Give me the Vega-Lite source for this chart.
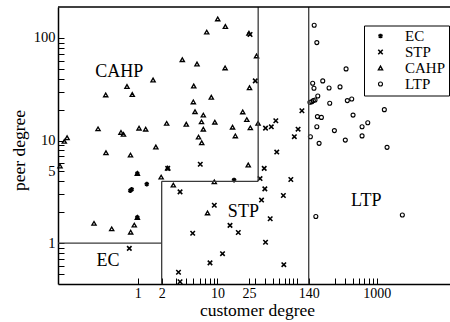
{
  "$schema": "https://vega.github.io/schema/vega-lite/v6.json",
  "width": 392,
  "height": 277,
  "autosize": {"type": "none"},
  "padding": {"left": 58, "top": 7, "right": 0, "bottom": 38},
  "config": {
    "font": "Liberation Serif",
    "view": {"stroke": null},
    "axis": {
      "grid": false,
      "domainColor": "black",
      "domainWidth": 1.5,
      "tickColor": "black",
      "tickWidth": 1,
      "labelColor": "black",
      "labelFont": "Liberation Serif",
      "labelFontSize": 14,
      "titleFont": "Liberation Serif",
      "titleFontSize": 17.5,
      "titleFontWeight": "normal",
      "titleColor": "black",
      "labelOverlap": false,
      "labelFlush": false,
      "labelBound": false
    }
  },
  "datasets": {
    "points": [
      {"t": "CAHP", "cd": 10.1, "pd": 153}, {"t": "CAHP", "cd": 12.6, "pd": 129}, {"t": "CAHP", "cd": 7.35, "pd": 114},
      {"t": "CAHP", "cd": 24.9, "pd": 111}, {"t": "CAHP", "cd": 31.0, "pd": 66.7}, {"t": "CAHP", "cd": 3.63, "pd": 61.4},
      {"t": "CAHP", "cd": 5.55, "pd": 55.7}, {"t": "CAHP", "cd": 12.5, "pd": 51.0}, {"t": "CAHP", "cd": 1.56, "pd": 38.9},
      {"t": "CAHP", "cd": 0.734, "pd": 33.6}, {"t": "CAHP", "cd": 0.855, "pd": 28.1}, {"t": "CAHP", "cd": 0.397, "pd": 27.8},
      {"t": "CAHP", "cd": 5.05, "pd": 34.0}, {"t": "CAHP", "cd": 25.3, "pd": 32.7}, {"t": "CAHP", "cd": 8.39, "pd": 26.4},
      {"t": "CAHP", "cd": 4.99, "pd": 23.8}, {"t": "CAHP", "cd": 5.24, "pd": 19.1}, {"t": "CAHP", "cd": 6.66, "pd": 17.7},
      {"t": "CAHP", "cd": 20.8, "pd": 19.0}, {"t": "CAHP", "cd": 2.31, "pd": 14.7}, {"t": "CAHP", "cd": 4.07, "pd": 14.4},
      {"t": "CAHP", "cd": 6.32, "pd": 15.2}, {"t": "CAHP", "cd": 9.29, "pd": 15.1}, {"t": "CAHP", "cd": 23.4, "pd": 16.0},
      {"t": "CAHP", "cd": 32.4, "pd": 14.7}, {"t": "CAHP", "cd": 1.04, "pd": 13.2}, {"t": "CAHP", "cd": 1.26, "pd": 12.9},
      {"t": "CAHP", "cd": 0.617, "pd": 12.0}, {"t": "CAHP", "cd": 0.663, "pd": 11.5}, {"t": "CAHP", "cd": 0.318, "pd": 13.0},
      {"t": "CAHP", "cd": 6.66, "pd": 12.9}, {"t": "CAHP", "cd": 15.5, "pd": 13.5}, {"t": "CAHP", "cd": 25.9, "pd": 13.3},
      {"t": "CAHP", "cd": 16.8, "pd": 11.1}, {"t": "CAHP", "cd": 5.8, "pd": 10.8}, {"t": "CAHP", "cd": 6.36, "pd": 9.52},
      {"t": "CAHP", "cd": 1.69, "pd": 8.64}, {"t": "CAHP", "cd": 0.12, "pd": 9.82}, {"t": "CAHP", "cd": 0.13, "pd": 10.65},
      {"t": "CAHP", "cd": 0.40, "pd": 7.6}, {"t": "CAHP", "cd": 0.812, "pd": 7.22}, {"t": "CAHP", "cd": 0.106, "pd": 5.64},
      {"t": "CAHP", "cd": 2.38, "pd": 5.39}, {"t": "CAHP", "cd": 1.97, "pd": 4.40}, {"t": "CAHP", "cd": 2.80, "pd": 3.68},
      {"t": "CAHP", "cd": 9.15, "pd": 3.96}, {"t": "CAHP", "cd": 24.4, "pd": 5.77}, {"t": "CAHP", "cd": 7.52, "pd": 1.97},
      {"t": "CAHP", "cd": 0.99, "pd": 4.77}, {"t": "CAHP", "cd": 0.99, "pd": 1.78}, {"t": "CAHP", "cd": 0.906, "pd": 1.50},
      {"t": "CAHP", "cd": 0.817, "pd": 1.28}, {"t": "CAHP", "cd": 0.283, "pd": 1.56}, {"t": "CAHP", "cd": 0.472, "pd": 1.38},
      {"t": "STP", "cd": 25.7, "pd": 108}, {"t": "STP", "cd": 29.9, "pd": 38.1}, {"t": "STP", "cd": 40.2, "pd": 13.2},
      {"t": "STP", "cd": 47.5, "pd": 13.6}, {"t": "STP", "cd": 54.1, "pd": 15.6}, {"t": "STP", "cd": 115, "pd": 19.5},
      {"t": "STP", "cd": 103, "pd": 12.9}, {"t": "STP", "cd": 92.4, "pd": 10.9}, {"t": "STP", "cd": 55.6, "pd": 7.72},
      {"t": "STP", "cd": 6.1, "pd": 5.87}, {"t": "STP", "cd": 2.38, "pd": 5.35}, {"t": "STP", "cd": 3.40, "pd": 3.16},
      {"t": "STP", "cd": 38.7, "pd": 5.35}, {"t": "STP", "cd": 34.3, "pd": 4.26}, {"t": "STP", "cd": 83.5, "pd": 4.17},
      {"t": "STP", "cd": 39.4, "pd": 3.38}, {"t": "STP", "cd": 67.3, "pd": 2.91}, {"t": "STP", "cd": 35.8, "pd": 2.63},
      {"t": "STP", "cd": 9.15, "pd": 2.34}, {"t": "STP", "cd": 46.0, "pd": 1.73}, {"t": "STP", "cd": 4.90, "pd": 1.25},
      {"t": "STP", "cd": 14.4, "pd": 1.49}, {"t": "STP", "cd": 18.3, "pd": 1.27}, {"t": "STP", "cd": 40.2, "pd": 1.02},
      {"t": "STP", "cd": 11.6, "pd": 0.79}, {"t": "STP", "cd": 8.08, "pd": 0.642}, {"t": "STP", "cd": 68.2, "pd": 0.617},
      {"t": "STP", "cd": 3.25, "pd": 0.521}, {"t": "STP", "cd": 3.40, "pd": 0.421}, {"t": "STP", "cd": 0.785, "pd": 0.889},
      {"t": "EC", "cd": 0.807, "pd": 3.25}, {"t": "EC", "cd": 0.841, "pd": 3.34}, {"t": "EC", "cd": 1.30, "pd": 3.76},
      {"t": "EC", "cd": 0.99, "pd": 4.77}, {"t": "EC", "cd": 0.99, "pd": 1.78}, {"t": "EC", "cd": 16.2, "pd": 4.12},
      {"t": "LTP", "cd": 164, "pd": 133}, {"t": "LTP", "cd": 177, "pd": 90}, {"t": "LTP", "cd": 412, "pd": 49.9},
      {"t": "LTP", "cd": 157, "pd": 36.1}, {"t": "LTP", "cd": 163, "pd": 32.3}, {"t": "LTP", "cd": 210, "pd": 38.1},
      {"t": "LTP", "cd": 252, "pd": 32.5}, {"t": "LTP", "cd": 346, "pd": 33.3}, {"t": "LTP", "cd": 182, "pd": 27.2},
      {"t": "LTP", "cd": 145, "pd": 23.6}, {"t": "LTP", "cd": 153, "pd": 23.9}, {"t": "LTP", "cd": 160, "pd": 24.5},
      {"t": "LTP", "cd": 168, "pd": 24.8}, {"t": "LTP", "cd": 257, "pd": 23.1}, {"t": "LTP", "cd": 427, "pd": 24.5},
      {"t": "LTP", "cd": 485, "pd": 25.4}, {"t": "LTP", "cd": 1245, "pd": 20.0}, {"t": "LTP", "cd": 180, "pd": 17.1},
      {"t": "LTP", "cd": 202, "pd": 16.8}, {"t": "LTP", "cd": 504, "pd": 17.7}, {"t": "LTP", "cd": 771, "pd": 14.9},
      {"t": "LTP", "cd": 654, "pd": 13.6}, {"t": "LTP", "cd": 177, "pd": 13.6}, {"t": "LTP", "cd": 294, "pd": 12.5},
      {"t": "LTP", "cd": 147, "pd": 10.9}, {"t": "LTP", "cd": 403, "pd": 10.1}, {"t": "LTP", "cd": 654, "pd": 11.1},
      {"t": "LTP", "cd": 189, "pd": 9.39}, {"t": "LTP", "cd": 1346, "pd": 8.58}, {"t": "LTP", "cd": 172, "pd": 1.82},
      {"t": "LTP", "cd": 2095, "pd": 1.88}
    ],
    "regions": [
      {"cd": 0.1, "cd2": 2, "pd": 1, "pd2": 1},
      {"cd": 2, "cd2": 2, "pd": 0.4, "pd2": 4},
      {"cd": 2, "cd2": 32.5, "pd": 4, "pd2": 4},
      {"cd": 32.5, "cd2": 32.5, "pd": 4, "pd2": 200},
      {"cd": 140, "cd2": 140, "pd": 0.4, "pd2": 200}
    ],
    "frame": [
      {"cd": 0.1, "cd2": 8300, "pd": 200, "pd2": 200}
    ],
    "labels": [
      {"label": "CAHP", "cd": 0.587, "pd": 41.4},
      {"label": "EC", "cd": 0.424, "pd": 0.597},
      {"label": "STP", "cd": 21.2, "pd": 1.81},
      {"label": "LTP", "cd": 738, "pd": 2.30}
    ]
  },
  "layer": [
    {
      "data": {"name": "points"},
      "mark": {"type": "point", "filled": false, "color": "black", "opacity": 1},
      "encoding": {
        "x": {
          "field": "cd", "type": "quantitative",
          "scale": {"type": "log", "domain": [0.1, 8300]},
          "axis": {
            "title": "customer degree",
            "values": [1, 2, 3, 4, 5, 6, 7, 8, 9, 10, 25, 30, 40, 50, 60, 70, 80, 90, 100, 140, 300, 400, 500, 600, 700, 800, 900, 1000],
            "labelExpr": "indexof([1,2,10,25,140,1000], datum.value) >= 0 ? format(datum.value, 'd') : ''",
            "tickSize": -6,
            "encoding": {"ticks": {"update": {"y2": {"signal": "indexof([1,2,10,25,140,1000], datum.value) >= 0 ? -6 : -3"}}}},
            "labelPadding": 8,
            "labelBaseline": "top",
            "titleX": 199,
            "titleY": 31,
            "titleBaseline": "alphabetic",
            "titleAlign": "center"
          }
        },
        "y": {
          "field": "pd", "type": "quantitative",
          "scale": {"type": "log", "domain": [0.4, 200]},
          "axis": {
            "title": "peer degree",
            "values": [0.5, 0.6, 0.7, 0.8, 0.9, 1, 2, 3, 4, 5, 6, 7, 8, 9, 10, 20, 30, 40, 50, 60, 70, 80, 90, 100],
            "labelExpr": "indexof([1,5,10,100], datum.value) >= 0 ? format(datum.value, 'd') : ''",
            "tickSize": -6,
            "encoding": {"ticks": {"update": {"x2": {"signal": "indexof([1,5,10,100], datum.value) >= 0 ? 6 : 3"}}}},
            "labelPadding": 9,
            "labelFontSize": 14.5,
            "labelBaseline": "middle",
            "titleAngle": -90,
            "titleX": -34,
            "titleY": 143,
            "titleBaseline": "alphabetic",
            "titleAlign": "center"
          }
        },
        "shape": {
          "field": "t", "type": "nominal",
          "scale": {
            "domain": ["EC", "STP", "CAHP", "LTP"],
            "range": ["M0,-1L0,1M-0.866,-0.5L0.866,0.5M-0.866,0.5L0.866,-0.5", "M-1,-1L1,1M-1,1L1,-1", "triangle-up", "circle"]
          },
          "legend": {
            "title": null,
            "orient": "none",
            "legendX": 306,
            "legendY": 18.5,
            "strokeColor": "black",
            "fillColor": "white",
            "padding": 3,
            "rowPadding": -2,
            "labelFont": "Liberation Serif",
            "labelFontSize": 15,
            "labelColor": "black",
            "labelOffset": 17,
            "symbolOffset": 6,
            "symbolStrokeColor": "black"
          }
        },
        "strokeWidth": {
          "field": "t", "type": "nominal",
          "scale": {"domain": ["EC", "STP", "CAHP", "LTP"], "range": [1.8, 1.1, 1, 1]}
        },
        "size": {
          "field": "t", "type": "nominal",
          "scale": {"domain": ["EC", "STP", "CAHP", "LTP"], "range": [22, 16, 32, 28]}
        }
      }
    },
    {
      "data": {"name": "regions"},
      "mark": {"type": "rule", "color": "#3a3a3a", "strokeWidth": 1.3},
      "encoding": {
        "x": {"field": "cd", "type": "quantitative", "scale": {"type": "log", "domain": [0.1, 8300]}},
        "x2": {"field": "cd2"},
        "y": {"field": "pd", "type": "quantitative", "scale": {"type": "log", "domain": [0.4, 200]}},
        "y2": {"field": "pd2"}
      }
    },
    {
      "data": {"name": "frame"},
      "mark": {"type": "rule", "color": "black", "strokeWidth": 1.5},
      "encoding": {
        "x": {"field": "cd", "type": "quantitative", "scale": {"type": "log", "domain": [0.1, 8300]}},
        "x2": {"field": "cd2"},
        "y": {"field": "pd", "type": "quantitative", "scale": {"type": "log", "domain": [0.4, 200]}},
        "y2": {"field": "pd2"}
      }
    },
    {
      "data": {"name": "labels"},
      "mark": {"type": "text", "font": "Liberation Serif", "fontSize": 18, "align": "center", "baseline": "alphabetic", "color": "black"},
      "encoding": {
        "x": {"field": "cd", "type": "quantitative", "scale": {"type": "log", "domain": [0.1, 8300]}},
        "y": {"field": "pd", "type": "quantitative", "scale": {"type": "log", "domain": [0.4, 200]}},
        "text": {"field": "label"}
      }
    }
  ]
}
